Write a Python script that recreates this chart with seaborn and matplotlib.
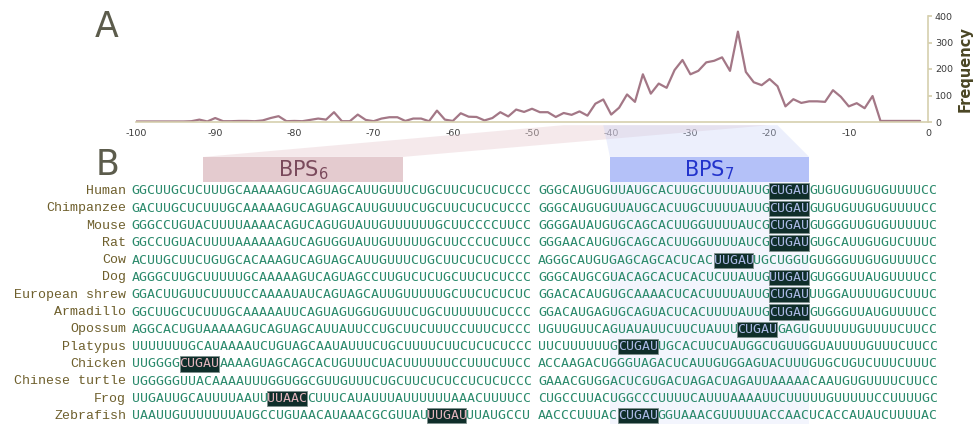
import numpy as np
import pandas as pd
import matplotlib
matplotlib.use("Agg")
import matplotlib.pyplot as plt
import seaborn as sns
from matplotlib.patches import Rectangle, Polygon

# ---- panel A data: branch point frequency by position upstream of the 3' splice site
positions = np.arange(-100, 0)
frequency = [2, 2, 2, 2, 2, 2, 2, 3, 9, 2,
             15, 3, 3, 4, 4, 3, 6, 15, 22, 3,
             4, 3, 8, 13, 9, 37, 3, 3, 28, 8,
             3, 13, 18, 18, 4, 13, 13, 3, 43, 9,
             4, 33, 20, 19, 6, 15, 37, 21, 47, 38,
             50, 37, 37, 19, 34, 27, 40, 24, 69, 85,
             28, 54, 104, 76, 180, 107, 145, 129, 196, 234,
             180, 193, 225, 231, 244, 193, 341, 189, 150, 139,
             162, 135, 59, 86, 72, 78, 78, 76, 120, 95,
             59, 71, 52, 98, 4, 4, 4, 4, 4, 4]
x_ticks = [-100, -90, -80, -70, -60, -50, -40, -30, -20, -10, 0]
y_ticks = [0, 100, 200, 300, 400]

# ---- panel B data: aligned intronic sequences (positions -100..-51 | -50..-1)
species = ["Human", "Chimpanzee", "Mouse", "Rat", "Cow", "Dog", "European shrew",
           "Armadillo", "Opossum", "Platypus", "Chicken", "Chinese turtle", "Frog",
           "Zebrafish"]
seq_left = [
    "GGCUUGCUCUUUGCAAAAAGUCAGUAGCAUUGUUUCUGCUUCUCUCUCCC",
    "GACUUGCUCUUUGCAAAAAGUCAGUAGCAUUGUUUCUGCUUCUCUCUCCC",
    "GGGCCUGUACUUUUAAAACAGUCAGUGUAUUGUUUUUUGCUUCCCCUUCC",
    "GGCCUGUACUUUUAAAAAAGUCAGUGGUAUUGUUUUUGCUUCCCUCUUCC",
    "ACUUGCUUCUGUGCACAAAGUCAGUAGCAUUGUUUCUGCUUCUCUCUCCC",
    "AGGGCUUGCUUUUUGCAAAAAGUCAGUAGCCUUGUCUCUGCUUCUCUCCC",
    "GGACUUGUUCUUUUCCAAAAUAUCAGUAGCAUUGUUUUUGCUUCUCUCUC",
    "GGCUUGCUCUUUGCAAAAAUUCAGUAGUGGUGUUUCUGCUUUUUUCUCCC",
    "AGGCACUGUAAAAAGUCAGUAGCAUUAUUCCUGCUUCUUUCCUUUCUCCC",
    "UUUUUUUGCAUAAAAUCUGUAGCAAUAUUUCUGCUUUUCUUCUCUCUCCC",
    "UUGGGGCUGAUAAAAGUAGCAGCACUGUUUCUACUUUUUUCCUUUCUUCC",
    "UGGGGGUUACAAAAUUUGGUGGCGUUGUUUCUGCUUCUCUCCUCUCUCCC",
    "UUGAUUGCAUUUUAAUUUUAACCUUUCAUAUUUAUUUUUUAAACUUUUCC",
    "UAAUUGUUUUUUUAUGCCUGUAACAUAAACGCGUUAUUUGAUUUAUGCCU",
]
seq_right = [
    "GGGCAUGUGUUAUGCACUUGCUUUUAUUGCUGAUGUGUGUUGUGUUUUCC",
    "GGGCAUGUGUUAUGCACUUGCUUUUAUUGCUGAUGUGUGUUGUGUUUUCC",
    "GGGGAUAUGUGCAGCACUUGGUUUUAUCGCUGAUGUGGGUUGUGUUUUUC",
    "GGGAACAUGUGCAGCACUUGGUUUUAUCGCUGAUGUGCAUUGUGUCUUUC",
    "AGGGCAUGUGAGCAGCACUCACUUGAUUGCUGGUGUGGGUUGUGUUUUCC",
    "GGGCAUGCGUACAGCACUCACUCUUAUUGUUGAUGUGGGUUAUGUUUUCC",
    "GGACACAUGUGCAAAACUCACUUUUAUUGCUGAUUUGGAUUUUGUCUUUC",
    "GGACAUGAGUGCAGUACUCACUUUUAUUGCUGAUGUGGGUUAUGUUUUCC",
    "UGUUGUUCAGUAUAUUCUUCUAUUUCUGAUGAGUGUUUUUGUUUUCUUCC",
    "UUCUUUUUUGCUGAUUGCACUUCUAUGGCUGUUGGUAUUUUGUUUCUUCC",
    "ACCAAGACUGGGUAGACUCAUUGUGGAGUACUUUGUGCUGUCUUUCUUUC",
    "GAAACGUGGACUCGUGACUAGACUAGAUUAAAAACAAUGUGUUUUCUUCC",
    "CUGCCUUACUGGCCCUUUUCAUUUAAAAUUCUUUUUGUUUUUCCUUUUGC",
    "AACCCUUUACCUGAUGGUAAACGUUUUUACCAACUCACCAUAUCUUUUAC",
]
# predicted branch point motifs: (species, first position of 5-nt motif)
motifs = [("Human", -21), ("Chimpanzee", -21), ("Mouse", -21), ("Rat", -21),
          ("Cow", -28), ("Dog", -21), ("European shrew", -21), ("Armadillo", -21),
          ("Opossum", -25), ("Platypus", -40), ("Chicken", -94), ("Frog", -83),
          ("Zebrafish", -63), ("Zebrafish", -40)]
bps6 = (-91, -66)
bps7 = (-41, -16)

sns.set_theme(style="white")
plt.rcParams["font.family"] = ["DejaVu Sans"]
plt.rcParams["mathtext.default"] = "regular"
plt.rcParams["axes.unicode_minus"] = False

W, H = 976, 424
fig = plt.figure(figsize=(W / 100, H / 100), dpi=100)


def px_box(x0, y0, x1, y1):
    return [x0 / W, 1 - y1 / H, (x1 - x0) / W, (y1 - y0) / H]


ax_a = fig.add_axes(px_box(136, 16, 928, 122))
ax_b = fig.add_axes(px_box(131.7, 140, 936.7, 424))
for ax in (ax_a, ax_b):
    ax.set_facecolor("none")

# ---- panel A
df = pd.DataFrame({"Position": positions, "Frequency": frequency})
sns.lineplot(data=df, x="Position", y="Frequency", ax=ax_a, color="#a37786", linewidth=1.6)
ax_a.set_xlim(-100, 0)
ax_a.set_ylim(0, 400)
ax_a.set_xticks(x_ticks)
ax_a.set_yticks(y_ticks)
ax_a.tick_params(axis="x", length=0, labelsize=6.8, labelcolor="#3a3a3a", pad=5)
ax_a.yaxis.tick_right()
ax_a.yaxis.set_label_position("right")
ax_a.tick_params(axis="y", length=3, color="#d6cfae", labelsize=6.8, labelcolor="#3a3a3a",
                 right=True, left=False, pad=2)
for s in ("top", "left"):
    ax_a.spines[s].set_visible(False)
for s in ("bottom", "right"):
    ax_a.spines[s].set_color("#d6cfae")
    ax_a.spines[s].set_linewidth(1.2)
ax_a.set_xlabel("")
ax_a.set_ylabel("Frequency", fontsize=10.5, fontweight="bold", color="#4a4624", labelpad=3)

# ---- panel B
ax_b.set_xlim(0, 101)
ax_b.set_ylim(13.47, -2.948)
ax_b.axis("off")


def col(pos):
    # alignment column for a position; the two blocks are separated by one blank column
    return pos + 100 if pos < -50 else pos + 101


box_top, box_bot = -1.97, -0.52
seq_font = dict(family="DejaVu Sans Mono", fontsize=9.53, ha="left", va="center")

# shaded projections linking panel A to the BPS windows
inv = fig.transFigure.inverted()


def fig_pt(ax, x, y):
    return inv.transform(ax.transData.transform((x, y)))


proj = [((-46, -20), bps6, "#e9cfd4", 0.45), ((-41, -19), bps7, "#c9d3f9", 0.35)]
for top, win, c, a in proj:
    pts = [fig_pt(ax_a, top[0], -12), fig_pt(ax_a, top[1], -12),
           fig_pt(ax_b, col(win[1]), box_top), fig_pt(ax_b, col(win[0]), box_top)]
    fig.patches.append(Polygon(pts, closed=True, transform=fig.transFigure,
                               facecolor=c, alpha=a, edgecolor="none", zorder=0))

ax_b.add_patch(Rectangle((col(bps7[0]), box_bot), bps7[1] - bps7[0], 13.47 - box_bot,
                         facecolor="#f3f5fd", edgecolor="none", zorder=0))

for win, fc, tc, lab in [(bps6, "#e4cbcf", "#7a4a5c", "BPS$_6$"),
                         (bps7, "#b4c1f8", "#2233cc", "BPS$_7$")]:
    ax_b.add_patch(Rectangle((col(win[0]), box_top), win[1] - win[0], box_bot - box_top,
                             facecolor=fc, edgecolor="none", zorder=1))
    ax_b.text((col(win[0]) + col(win[1])) / 2, (box_top + box_bot) / 2 + 0.05, lab,
              ha="center", va="center", fontsize=15, color=tc, zorder=2)

for r, name in enumerate(species):
    ax_b.text(-0.7, r, name, ha="right", va="center", family="Liberation Mono",
              fontsize=9.5, color="#6e5f2c")
    starts = [s for n, s in motifs if n == name]
    for s in starts:
        ax_b.add_patch(Rectangle((col(s), r - 0.44), 5, 0.88, facecolor="#0f2e2a",
                                 edgecolor="#7f918e", linewidth=0.6, zorder=2))
    full = seq_left[r] + seq_right[r]
    # split each block into runs of plain / motif letters
    for b0, b1 in [(-100, -50), (-50, 0)]:
        p = b0
        while p < b1:
            s = next((s for s in starts if s <= p < s + 5), None)
            if s is not None:
                q = min(s + 5, b1)
                c = "#aab8e4" if s >= -50 else "#e2b4bc"
            else:
                q = min([t for t in starts if p < t < b1] + [b1])
                c = "#2b8a6c"
            ax_b.text(col(p), r, full[p + 100:q + 100], color=c, zorder=3, **seq_font)
            p = q

fig.text(95 / W, 1 - 37 / H, "A", fontsize=25, color="#5c5c4c")
fig.text(96 / W, 1 - 175 / H, "B", fontsize=25, color="#5c5c4c")

fig.savefig("out.png", dpi=100)
